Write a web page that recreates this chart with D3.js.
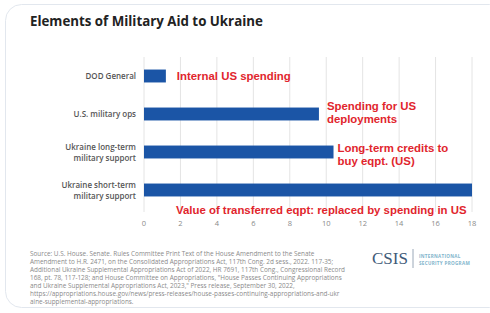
<!DOCTYPE html>
<html>
<head>
<meta charset="utf-8">
<script src="https://cdn.jsdelivr.net/npm/d3@7"></script>
<style>
  body { margin: 0; background: #fff; }
  svg { display: block; font-family: "Open Sans", "Noto Sans", sans-serif; }
</style>
</head>
<body>
<svg id="container" width="490" height="313"></svg>
<script>
// categories, top to bottom
const categories = [
  ["DOD General"],
  ["U.S. military ops"],
  ["Ukraine long-term", "military support"],
  ["Ukraine short-term", "military support"]
];
const values = [1.2, 9.6, 10.4, 18];
const ticks = [0, 2, 4, 6, 8, 10, 12, 14, 16, 18];

// red notes next to the bars
const notes = [
  ["Internal US spending"],
  ["Spending for US", "deployments"],
  ["Long-term credits to", "buy eqpt. (US)"],
  ["Value of transferred eqpt: replaced by spending in US"]
];

const sourceLines = [
  "Source: U.S. House. Senate. Rules Committee Print Text of the House Amendment to the Senate",
  "Amendment to H.R. 2471, on the Consolidated Appropriations Act, 117th Cong. 2d sess., 2022. 117-35;",
  "Additional Ukraine Supplemental Appropriations Act of 2022, HR 7691, 117th Cong., Congressional Record",
  "168, pt. 78, 117-128; and House Committee on Appropriations, \"House Passes Continuing Appropriations",
  "and Ukraine Supplemental Appropriations Act, 2023,\" Press release, September 30, 2022,",
  "https://appropriations.house.gov/news/press-releases/house-passes-continuing-appropriations-and-ukr",
  "aine-supplemental-appropriations."
];

const svg = d3.select('#container');

// card
svg.append('rect')
  .attr('x', 5.5).attr('y', 4.5)
  .attr('width', 500).attr('height', 303)
  .attr('rx', 16)
  .attr('fill', '#fff')
  .attr('stroke', '#e2e7ee');

svg.append('text')
  .attr('x', 30).attr('y', 26)
  .attr('font-size', 13.3).attr('font-weight', 'bold')
  .attr('fill', '#222')
  .text('Elements of Military Aid to Ukraine');

const x = d3.scaleLinear().domain([0, 18]).range([144, 472]);
const y = d3.scaleBand().domain(d3.range(categories.length)).range([57, 209]).paddingInner(0.66).paddingOuter(0.33);

// grid
svg.selectAll('line.grid')
  .data(ticks)
  .enter()
  .append('line')
  .attr('class', 'grid')
  .attr('x1', d => x(d)).attr('x2', d => x(d))
  .attr('y1', 57).attr('y2', 212)
  .attr('stroke', '#e4e4e4');

// tick labels
svg.selectAll('text.tick')
  .data(ticks)
  .enter()
  .append('text')
  .attr('class', 'tick')
  .attr('x', d => x(d)).attr('y', 226)
  .attr('text-anchor', 'middle')
  .attr('font-size', 7.5)
  .attr('fill', '#8a8a8a')
  .text(d => d);

// bars
svg.selectAll('rect.bar')
  .data(values)
  .enter()
  .append('rect')
  .attr('class', 'bar')
  .attr('x', x(0))
  .attr('y', (d, i) => y(i))
  .attr('width', d => x(d) - x(0))
  .attr('height', y.bandwidth())
  .attr('fill', '#1b55a6');

// category labels
categories.forEach((lines, i) => {
  const cy = y(i) + y.bandwidth() / 2;
  const t = svg.append('text')
    .attr('text-anchor', 'end')
    .attr('font-size', 8)
    .attr('font-weight', 600)
    .attr('fill', '#555');
  lines.forEach((s, j) => {
    t.append('tspan')
      .attr('x', 136)
      .attr('y', cy + 3 + (j - (lines.length - 1) / 2) * 11)
      .text(s);
  });
});

// notes
const notePos = [
  {dx: 11, dy: 0},
  {dx: 8, dy: -2},
  {dx: 4, dy: 2},
  {dx: null, dy: 20}
];
notes.forEach((lines, i) => {
  const cy = y(i) + y.bandwidth() / 2;
  const p = notePos[i];
  const nx = p.dx === null ? 176 : x(values[i]) + p.dx;
  const t = svg.append('text')
    .attr('font-family', 'Liberation Sans, Arial, sans-serif')
    .attr('font-size', 11.4)
    .attr('font-weight', 'bold')
    .attr('fill', '#e1252d');
  lines.forEach((s, j) => {
    t.append('tspan')
      .attr('x', nx)
      .attr('y', cy + 4 + p.dy + j * 13 - (lines.length - 1) * 6.5)
      .text(s);
  });
});

// source note
svg.append('text')
  .attr('font-size', 6.4)
  .attr('fill', '#8a8a8a')
  .selectAll('tspan')
  .data(sourceLines)
  .enter()
  .append('tspan')
  .attr('x', 30)
  .attr('y', (d, i) => 256 + i * 8)
  .text(d => d);

// logo
svg.append('text')
  .attr('x', 372).attr('y', 264)
  .attr('font-family', 'Liberation Serif, DejaVu Serif, serif')
  .attr('font-size', 17)
  .attr('fill', '#3f5b79')
  .text('CSIS');
svg.append('line')
  .attr('x1', 413).attr('x2', 413)
  .attr('y1', 249).attr('y2', 268)
  .attr('stroke', '#9aa8b8');
svg.append('text')
  .attr('font-size', 4.6)
  .attr('font-weight', 'bold')
  .attr('fill', '#7fb4cc')
  .attr('letter-spacing', 0.3)
  .selectAll('tspan')
  .data(['INTERNATIONAL', 'SECURITY PROGRAM'])
  .enter()
  .append('tspan')
  .attr('x', 419)
  .attr('y', (d, i) => 258 + i * 7)
  .text(d => d);
</script>
</body>
</html>
